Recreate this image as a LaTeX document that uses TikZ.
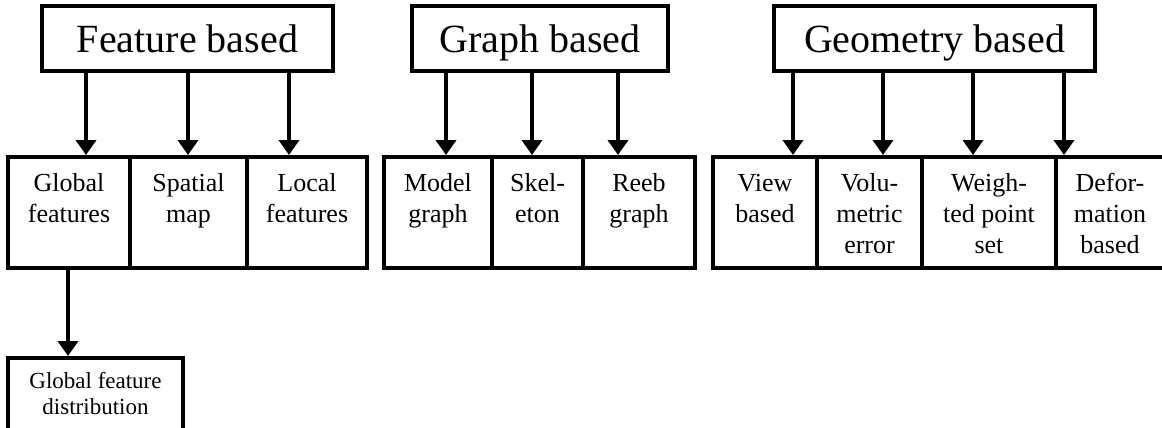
\documentclass[tikz,border=0pt]{standalone}
\usepackage{fontspec}
\setmainfont{Liberation Serif}
\usetikzlibrary{positioning}
\usetikzlibrary{arrows.meta}

\begin{document}
\begin{tikzpicture}[x=1pt, y=-1pt, line width=4pt,
    arr/.style={-{Triangle[width=20pt,length=15pt]}, shorten >=2pt},
    topbox/.style={draw, anchor=north west, minimum height=65pt, inner sep=0pt,
        outer sep=0pt, text height=30pt, text depth=1pt,
        font=\fontsize{40}{48}\selectfont},
    subbox/.style={draw, anchor=north west, minimum height=111pt, inner sep=0pt,
        outer sep=0pt},
    subtext/.style={align=center, inner sep=0pt, font=\fontsize{26}{31}\selectfont}]
        \useasboundingbox (0,0) rectangle (1162,428);

        \node [topbox, minimum width=291pt] (feat) at (42,6) {Feature based};
        \node [topbox, minimum width=256pt] (graph) at (412,6) {Graph based};
        \node [topbox, minimum width=321pt] (geom) at (774,6) {Geometry based};

        \node [subbox, minimum width=122pt] (glob) at (8,157) {};
        \node [subbox, minimum width=117pt, right=0pt of glob] (spat) {};
        \node [subbox, minimum width=120pt, right=0pt of spat] (loc) {};
        \node [subtext, below=11pt of glob.north] (globt) {\strut Global\\features};
        \node [subtext, below=11pt of spat.north] (spatt) {\strut Spatial\\map};
        \node [subtext, below=11pt of loc.north] (loct) {\strut Local\\features};

        \node [subbox, minimum width=108pt] (model) at (384,157) {};
        \node [subbox, minimum width=91pt, right=0pt of model] (skel) {};
        \node [subbox, minimum width=112pt, right=0pt of skel] (reeb) {};
        \node [subtext, below=11pt of model.north] (modelt) {\strut Model\\graph};
        \node [subtext, below=11pt of skel.north] (skelt) {\strut Skel-\\eton};
        \node [subtext, below=11pt of reeb.north] (reebt) {\strut Reeb\\graph};

        \node [subbox, minimum width=104pt] (view) at (713,157) {};
        \node [subbox, minimum width=105pt, right=0pt of view] (volu) {};
        \node [subbox, minimum width=134pt, right=0pt of volu] (weigh) {};
        \node [subbox, minimum width=108pt, right=0pt of weigh] (defor) {};
        \node [subtext, below=11pt of view.north] (viewt) {\strut View\\based};
        \node [subtext, below=11pt of volu.north] (volut) {\strut Volu-\\metric\\error};
        \node [subtext, below=11pt of weigh.north] (weight) {\strut Weigh-\\ted point\\set};
        \node [subtext, below=11pt of defor.north] (defort) {\strut Defor-\\mation\\based};

        \node [draw, anchor=north west, minimum width=175pt, minimum height=72pt,
            inner sep=0pt, outer sep=0pt, align=center,
            font=\fontsize{23}{26}\selectfont] (dist) at (8,358) {Global feature\\distribution};

        \draw [arr] (86,0 |- feat.south) -- (86,0 |- glob.north);
        \draw [arr] (188,0 |- feat.south) -- (188,0 |- spat.north);
        \draw [arr] (289,0 |- feat.south) -- (289,0 |- loc.north);

        \draw [arr] (446,0 |- graph.south) -- (446,0 |- model.north);
        \draw [arr] (532,0 |- graph.south) -- (532,0 |- skel.north);
        \draw [arr] (618,0 |- graph.south) -- (618,0 |- reeb.north);

        \draw [arr] (793,0 |- geom.south) -- (793,0 |- view.north);
        \draw [arr] (883,0 |- geom.south) -- (883,0 |- volu.north);
        \draw [arr] (973,0 |- geom.south) -- (973,0 |- weigh.north);
        \draw [arr] (1064,0 |- geom.south) -- (1064,0 |- defor.north);

        \draw [arr] (68,0 |- glob.south) -- (68,0 |- dist.north);
    \end{tikzpicture}
\end{document}
